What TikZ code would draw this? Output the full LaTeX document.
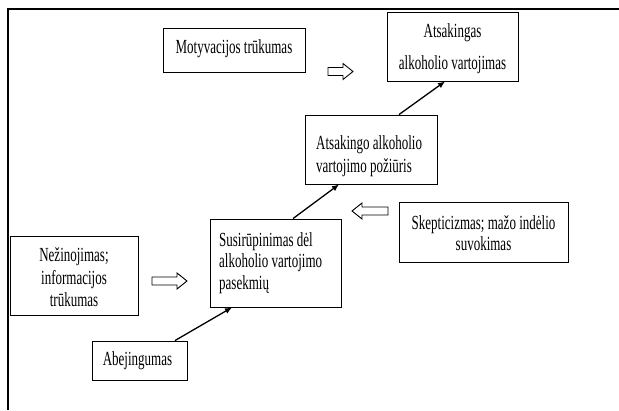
\documentclass[tikz,border=0pt]{standalone}
\usepackage{fontspec}
\setmainfont[FakeStretch=0.65]{Liberation Serif}
\usetikzlibrary{arrows.meta}
\begin{document}
\begin{tikzpicture}[x=1pt,y=-1pt,
  box/.style={draw, line width=0.9pt, inner sep=0pt},
  txt/.style={inner sep=0pt, font=\fontsize{20}{22}\selectfont},
  conn/.style={line width=1.3pt, -{Latex[length=7pt,width=6pt]}},
  hollow/.style={draw, line width=0.9pt, fill=white}]
\useasboundingbox (0,0) rectangle (619,410);
\fill[white] (0,0) rectangle (619,410);
\draw[line width=1.6pt] (619,9) -- (8,9) -- (8,410);

% boxes
\node[box, minimum width=142pt, minimum height=44pt] (mot) at (234,50) {};
\node[box, minimum width=131pt, minimum height=69pt] (ats) at (452.5,46.5) {};
\node[box, minimum width=132pt, minimum height=69pt] (poz) at (371,149.5) {};
\node[box, minimum width=169pt, minimum height=60pt] (skep) at (483.5,232) {};
\node[box, minimum width=131pt, minimum height=88pt] (sus) at (275.5,263) {};
\node[box, minimum width=128pt, minimum height=79pt] (nez) at (74,275.5) {};
\node[box, minimum width=95pt, minimum height=39pt] (abe) at (139.5,360.5) {};

% texts
\node[txt] (motT) at (234,49) {Motyvacijos trūkumas};
\node[txt, align=center, font=\fontsize{20}{32}\selectfont] (atsT) at (452.5,49) {Atsakingas\\alkoholio vartojimas};
\node[txt, align=left, anchor=west, font=\fontsize{20}{23}\selectfont] (pozT) at (316,156.5) {Atsakingo alkoholio\\vartojimo požiūris};
\node[txt, align=center, font=\fontsize{20}{21}\selectfont] (skepT) at (483.5,233.5) {Skepticizmas; mažo indėlio\\suvokimas};
\node[txt, align=left, anchor=west, font=\fontsize{20}{21.5}\selectfont] (susT) at (219,263) {Susirūpinimas dėl\\alkoholio vartojimo\\pasekmių};
\node[txt, align=center, font=\fontsize{20}{22.5}\selectfont] (nezT) at (74,277.5) {Nežinojimas;\\informacijos\\trūkumas};
\node[txt] (abeT) at (137.5,361) {Abejingumas};

% connectors
\draw[conn] ([xshift=35.5pt]abe.north) -- ([xshift=-43.5pt]sus.south);
\draw[conn] ([xshift=17.5pt]sus.north) -- ([xshift=-32pt]poz.south);
\draw[conn] ([xshift=28pt]poz.north) -- ([xshift=-7.5pt]ats.south);

% hollow block arrows
\draw[hollow] (328,67.5) -- (343,67.5) -- (343,63.5) -- (353,71.5) -- (343,79.5) -- (343,75.5) -- (328,75.5) -- cycle;
\draw[hollow] (152,277) -- (177,277) -- (177,273) -- (187,281) -- (177,289) -- (177,285) -- (152,285) -- cycle;
\draw[hollow] (388,207) -- (362,207) -- (362,203) -- (352,211) -- (362,219) -- (362,215) -- (388,215) -- cycle;
\end{tikzpicture}
\end{document}
